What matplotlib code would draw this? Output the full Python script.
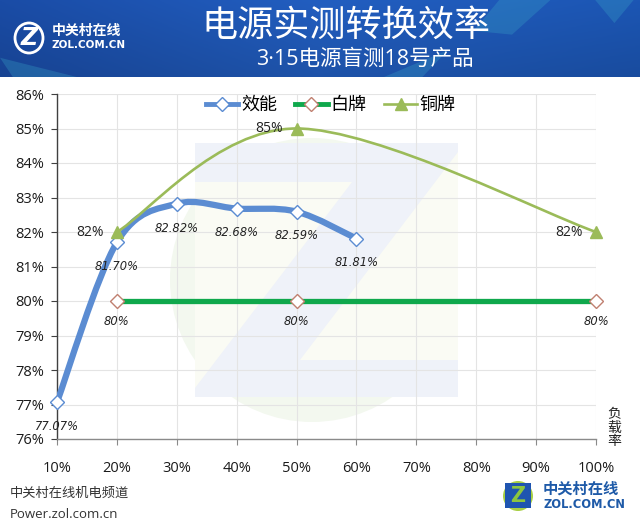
import numpy as np
import matplotlib
matplotlib.use("Agg")
import matplotlib.pyplot as plt
from matplotlib.path import Path
from matplotlib.patches import PathPatch, Polygon, Rectangle, Ellipse
from matplotlib.lines import Line2D

plt.rcParams['font.family'] = ['Open Sans', 'Noto Sans CJK SC', 'DejaVu Sans']

# ---------------- data ----------------
x_ticks = [10, 20, 30, 40, 50, 60, 70, 80, 90, 100]
x_tick_labels = ["10%", "20%", "30%", "40%", "50%", "60%", "70%", "80%", "90%", "100%"]
y_ticks = [76, 77, 78, 79, 80, 81, 82, 83, 84, 85, 86]
y_tick_labels = [f"{v}%" for v in y_ticks]

eff_x = [10, 20, 30, 40, 50, 60]
eff_y = [77.07, 81.70, 82.82, 82.68, 82.59, 81.81]
eff_labels = ["77.07%", "81.70%", "82.82%", "82.68%", "82.59%", "81.81%"]

white_x = [20, 50, 100]
white_y = [80, 80, 80]
white_labels = ["80%", "80%", "80%"]

bronze_x = [20, 50, 100]
bronze_y = [82, 85, 82]
bronze_labels = ["82%", "85%", "82%"]

series_names = ["效能", "白牌", "铜牌"]
title = "电源实测转换效率"
subtitle = "3·15电源盲测18号产品"
x_name = "负\n载\n率"

# ---------------- figure ----------------
W, H = 640, 530
fig = plt.figure(figsize=(W / 100, H / 100), dpi=100)
fig.patch.set_facecolor("white")

def fx(px):
    return px / W

def fy(py):
    return 1 - py / H

# header band
hax = fig.add_axes([0, fy(77), 1, 77 / H], zorder=-5)
gx = np.linspace(0, 1, 320)
gy = np.linspace(0, 1, 40)
GX, GY = np.meshgrid(gx, gy)
c0 = np.array([0x1a, 0x4c, 0xa6]) / 255
c1 = np.array([0x22, 0x5e, 0xc0]) / 255
c2 = np.array([0x1c, 0x56, 0xb4]) / 255
t = GX[..., None]
img = np.where(t < 0.5, c0 + (c1 - c0) * (t / 0.5), c1 + (c2 - c1) * ((t - 0.5) / 0.5))
img = img * (1 - 0.12 * GY[..., None])
hax.imshow(np.clip(img, 0, 1), extent=[0, 1, 0, 1], aspect="auto", origin="upper")
hax.set_xlim(0, 1); hax.set_ylim(0, 1)
for pts in [[(0.78, 1), (0.86, 1), (0.80, 0.55), (0.74, 0.6)],
            [(0.93, 1), (0.99, 1), (0.96, 0.7)],
            [(0.60, 0.0), (0.66, 0.0), (0.70, 0.35)],
            [(0.0, 0.25), (0.12, 0.0), (0.02, 0.0)]]:
    hax.add_patch(Polygon(pts, closed=True, facecolor="#3aa6c9", alpha=0.3, lw=0))
hax.axis("off")

fig.text(fx(346), fy(26), title, color="white", fontsize=26,
         family=['Noto Sans CJK SC'], ha="center", va="center")
fig.text(fx(365), fy(59), subtitle, color="white", fontsize=15.5,
         family=['Open Sans', 'Noto Sans CJK SC'], ha="center", va="center")

# header logo
fig.add_artist(Ellipse((fx(29), fy(38)), 28 / W, 30 / H, transform=fig.transFigure,
                       facecolor="none", edgecolor="white", lw=2, zorder=3))
fig.text(fx(29), fy(38), "Z", color="white", fontsize=17, fontweight="bold",
         family=['DejaVu Sans'], style="italic", ha="center", va="center", zorder=4)
fig.text(fx(52), fy(31), "中关村在线", color="white", fontsize=10, fontweight="bold",
         family=['Noto Sans CJK SC'], ha="left", va="center")
fig.text(fx(52), fy(45), "ZOL.COM.CN", color="white", fontsize=7.5, fontweight="bold",
         family=['DejaVu Sans'], ha="left", va="center")

# faint watermark behind plot
def figpoly(pts, color, z=-3):
    fig.add_artist(Polygon([(fx(a), fy(b)) for a, b in pts], closed=True,
                           transform=fig.transFigure, facecolor=color, lw=0, zorder=z))

fig.add_artist(Ellipse((fx(312), fy(280)), 284 / W, 284 / H, transform=fig.transFigure,
                       facecolor="#f3f8ef", lw=0, zorder=-4))
figpoly([(195, 143), (458, 143), (458, 397), (195, 397)], "#eff2f9")
figpoly([(195, 182), (352, 182), (195, 388)], "#fafbf4")
figpoly([(458, 152), (458, 360), (300, 360)], "#fafbf4")

# ---------------- axes ----------------
ax = fig.add_axes([fx(57), fy(439), (596 - 57) / W, (439 - 94) / H])
ax.set_facecolor("none")
ax.set_xlim(10, 100)
ax.set_ylim(76, 86)
ax.set_xticks(x_ticks)
ax.set_xticklabels(x_tick_labels)
ax.set_yticks(y_ticks)
ax.set_yticklabels(y_tick_labels)
ax.grid(True, color="#e4e4e4", lw=0.8, zorder=0)
ax.set_axisbelow(True)
for s in ["top", "right"]:
    ax.spines[s].set_visible(False)
ax.spines["left"].set_color("#404040")
ax.spines["left"].set_linewidth(1.0)
ax.spines["bottom"].set_color("#8a8a8a")
ax.spines["bottom"].set_linewidth(1.0)
ax.tick_params(axis="x", length=4, color="#8a8a8a", pad=12, labelsize=10.5, labelcolor="#1a1a1a")
ax.tick_params(axis="y", length=4, color="#404040", pad=5, labelsize=10.5, labelcolor="#1a1a1a")

# smoothing (Catmull-Rom as Bezier, computed in display-proportional space)
sx = 539 / 90.0
sy = 345 / 10.0

def smooth_path(xs, ys):
    P = np.column_stack([np.array(xs) * sx, np.array(ys) * sy])
    n = len(P)
    verts = [P[0]]
    codes = [Path.MOVETO]
    for i in range(n - 1):
        p0 = P[i - 1] if i > 0 else P[i]
        p1 = P[i]
        p2 = P[i + 1]
        p3 = P[i + 2] if i + 2 < n else P[i + 1]
        c1 = p1 + (p2 - p0) / 6.0
        c2 = p2 - (p3 - p1) / 6.0
        verts += [c1, c2, p2]
        codes += [Path.CURVE4] * 3
    V = np.array(verts)
    V[:, 0] /= sx
    V[:, 1] /= sy
    return Path(V, codes)

blue = "#5b8cd2"
green = "#0fa84c"
olive = "#9bbb59"

ax.add_patch(PathPatch(smooth_path(eff_x, eff_y), facecolor="none", edgecolor=blue,
                       lw=4.5, capstyle="round", joinstyle="round", zorder=4))
ax.plot(eff_x, eff_y, ls="none", marker="D", ms=7.5, mfc="white", mec=blue, mew=1.0,
        zorder=6, clip_on=False)

ax.plot(white_x, white_y, color=green, lw=3.8, solid_capstyle="butt", zorder=3)
ax.plot(white_x, white_y, ls="none", marker="D", ms=7.5, mfc="white", mec="#c08070",
        mew=1.0, zorder=6, clip_on=False)

ax.add_patch(PathPatch(smooth_path(bronze_x, bronze_y), facecolor="none", edgecolor=olive,
                       lw=1.9, zorder=5))
ax.plot(bronze_x, bronze_y, ls="none", marker="^", ms=8.5, mfc=olive, mec=olive,
        zorder=6, clip_on=False)

lab_kw = dict(fontsize=8.3, style="italic", family=['DejaVu Sans'], color="#222222",
              ha="center", va="center", zorder=7)
for xv, yv, s in zip(eff_x, eff_y, eff_labels):
    ax.annotate(s, (xv, yv), xytext=(0, -17.5), textcoords="offset points", **lab_kw)
for xv, yv, s in zip(white_x, white_y, white_labels):
    ax.annotate(s, (xv, yv), xytext=(0, -15), textcoords="offset points", **lab_kw)
for xv, yv, s in zip(bronze_x, bronze_y, bronze_labels):
    ax.annotate(s, (xv, yv), xytext=(-9.5, 0), textcoords="offset points",
                fontsize=10, color="#222222", ha="right", va="center", zorder=7)

# legend
handles = [
    Line2D([], [], color=blue, lw=3.5, marker="D", ms=7, mfc="white", mec=blue),
    Line2D([], [], color=green, lw=3.5, marker="D", ms=7, mfc="white", mec="#c08070"),
    Line2D([], [], color=olive, lw=1.9, marker="^", ms=8, mfc=olive, mec=olive),
]
leg = ax.legend(handles, series_names, loc="center", bbox_to_anchor=(0.508, 0.968),
                ncol=3, frameon=False, handlelength=1.8, handletextpad=0.15,
                columnspacing=1.0, prop={"family": ['Noto Sans CJK SC'], "size": 13})
leg.set_zorder(8)

# x-axis name
fig.text(fx(614), fy(428), x_name, fontsize=10, family=['Noto Sans CJK SC'],
         color="#222222", ha="center", va="center", linespacing=0.95)

# footer
fig.text(fx(10), fy(493), "中关村在线机电频道", fontsize=9.5, family=['Noto Sans CJK SC'],
         color="#333333", ha="left", va="center")
fig.text(fx(10), fy(515), "Power.zol.com.cn", fontsize=9.5, color="#333333",
         ha="left", va="center")

# bottom-right logo
fig.add_artist(Ellipse((fx(518), fy(496)), 30 / W, 30 / H, transform=fig.transFigure,
                       facecolor="#a8cf45", lw=0, zorder=2))
fig.add_artist(Rectangle((fx(505), fy(508)), 26 / W, 25 / H, transform=fig.transFigure,
                         facecolor="#1f55b0", lw=0, zorder=3))
fig.text(fx(518), fy(496), "Z", color="#8cc63f", fontsize=15, fontweight="bold",
         family=['DejaVu Sans'], ha="center", va="center", zorder=4)
fig.text(fx(543), fy(489), "中关村在线", color="#1e5aa8", fontsize=11, fontweight="bold",
         family=['Noto Sans CJK SC'], ha="left", va="center")
fig.text(fx(543), fy(505), "ZOL.COM.CN", color="#1e5aa8", fontsize=8.3, fontweight="bold",
         family=['DejaVu Sans'], ha="left", va="center")

fig.savefig("out.png", dpi=100, facecolor="white")
